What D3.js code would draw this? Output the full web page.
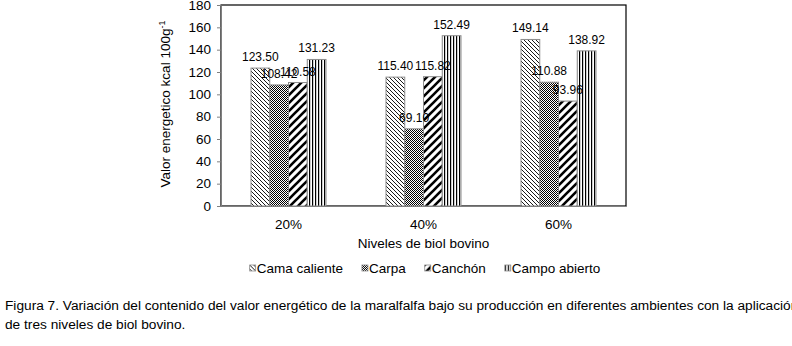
<!DOCTYPE html>
<html>
<head>
<meta charset="utf-8">
<script src="https://cdn.jsdelivr.net/npm/d3@7"></script>
<style>
  body { margin: 0; background: #fff; }
  text { font-family: "Liberation Sans", Arial, sans-serif; }
</style>
</head>
<body>
<svg id="chart"></svg>
<script>
var groups = ["20%", "40%", "60%"]
var seriesNames = ["Cama caliente", "Carpa", "Canchón", "Campo abierto"]
var camaCaliente = [123.50, 115.40, 149.14]
var carpa = [108.42, 69.10, 110.88]
var canchon = [110.58, 115.82, 93.96]
var campoAbierto = [131.23, 152.49, 138.92]
var yTicks = [0, 20, 40, 60, 80, 100, 120, 140, 160, 180]
var caption = [
  "Figura 7. Variación del contenido del valor energético de la maralfalfa bajo su producción en diferentes ambientes con la aplicación",
  "de tres niveles de biol bovino."
]

var seriesValues = [camaCaliente, carpa, canchon, campoAbierto]
var patternIds = ["pat-cama", "pat-carpa", "pat-canchon", "pat-campo"]

var dimensions = {
  width: 792,
  height: 346,
  margin: { top: 5, bottom: 140, left: 221, right: 166 }
}

var svg = d3.select("#chart")
  .attr("width", dimensions.width)
  .attr("height", dimensions.height)

svg.append("rect")
  .attr("width", dimensions.width)
  .attr("height", dimensions.height)
  .attr("fill", "#fff")

// fill patterns
var defs = svg.append("defs")

var pCama = defs.append("pattern").attr("id", "pat-cama")
  .attr("patternUnits", "userSpaceOnUse").attr("width", 4).attr("height", 4)
pCama.append("rect").attr("width", 4).attr("height", 4).attr("fill", "#fff")
pCama.append("path").attr("d", "M-1,-1L5,5M3,-1L5,1M-1,3L1,5")
  .attr("stroke", "#000").attr("stroke-width", 0.9)

var pCarpa = defs.append("pattern").attr("id", "pat-carpa")
  .attr("patternUnits", "userSpaceOnUse").attr("width", 2).attr("height", 2)
pCarpa.append("rect").attr("width", 2).attr("height", 2).attr("fill", "#fff")
pCarpa.append("rect").attr("width", 1).attr("height", 1).attr("fill", "#000")
pCarpa.append("rect").attr("x", 1).attr("y", 1).attr("width", 1).attr("height", 1).attr("fill", "#000")

var pCanchon = defs.append("pattern").attr("id", "pat-canchon")
  .attr("patternUnits", "userSpaceOnUse").attr("width", 8).attr("height", 8)
pCanchon.append("rect").attr("width", 8).attr("height", 8).attr("fill", "#fff")
pCanchon.append("path").attr("d", "M-1,9L9,-1M-3,3L3,-3M5,11L11,5")
  .attr("stroke", "#000").attr("stroke-width", 2.6)

var pCampo = defs.append("pattern").attr("id", "pat-campo")
  .attr("patternUnits", "userSpaceOnUse").attr("width", 3).attr("height", 3)
pCampo.append("rect").attr("width", 3).attr("height", 3).attr("fill", "#fff")
pCampo.append("rect").attr("width", 1.2).attr("height", 3).attr("fill", "#000")

var plotLeft = dimensions.margin.left
var plotRight = dimensions.width - dimensions.margin.right
var plotTop = dimensions.margin.top
var plotBottom = dimensions.height - dimensions.margin.bottom

var x0 = d3.scaleBand()
  .domain(groups)
  .range([plotLeft, plotRight])

var x1 = d3.scaleBand()
  .domain(d3.range(seriesNames.length))
  .range([0, x0.bandwidth()])
  .paddingOuter(1.6)

var yScale = d3.scaleLinear()
  .domain([0, 180])
  .range([plotBottom, plotTop])

// plot frame (top / right are black)
svg.append("rect")
  .attr("x", plotLeft).attr("y", plotTop)
  .attr("width", plotRight - plotLeft).attr("height", plotBottom - plotTop)
  .attr("fill", "none").attr("stroke", "#000").attr("stroke-width", 1.2)

var data = []
seriesValues.forEach(function (vals, s) {
  vals.forEach(function (v, g) {
    data.push({ group: groups[g], s: s, value: v })
  })
})

svg.append("g")
  .selectAll("rect")
  .data(data)
  .enter()
  .append("rect")
  .attr("x", d => x0(d.group) + x1(d.s))
  .attr("y", d => yScale(d.value))
  .attr("width", x1.bandwidth())
  .attr("height", d => plotBottom - yScale(d.value))
  .attr("fill", d => "url(#" + patternIds[d.s] + ")")
  .attr("stroke", "#8c8c8c")
  .attr("stroke-width", 1)

svg.append("g")
  .selectAll("text")
  .data(data)
  .enter()
  .append("text")
  .attr("x", d => x0(d.group) + x1(d.s) + x1.bandwidth() / 2)
  .attr("y", d => yScale(d.value) - 7)
  .attr("text-anchor", "middle")
  .attr("font-size", 12)
  .attr("fill", "#000")
  .text(d => d3.format(".2f")(d.value))

// axes
var yAxisGen = d3.axisLeft(yScale).tickValues(yTicks).tickSize(4).tickPadding(6)
var yAxis = svg.append("g")
  .attr("transform", `translate(${plotLeft},0)`)
  .call(yAxisGen)
yAxis.select(".domain").attr("stroke", "#808080")
yAxis.selectAll(".tick line").attr("stroke", "#808080")
yAxis.selectAll(".tick text").attr("font-size", 13.5).attr("fill", "#000")
  .style("font-family", "Liberation Sans, Arial, sans-serif")

var xAxisGen = d3.axisBottom(x0).tickSize(0).tickPadding(13)
var xAxis = svg.append("g")
  .attr("transform", `translate(0,${plotBottom})`)
  .call(xAxisGen)
xAxis.select(".domain").attr("stroke", "#808080")
xAxis.selectAll(".tick text").attr("font-size", 13.5).attr("fill", "#000")
  .style("font-family", "Liberation Sans, Arial, sans-serif")

// axis titles
svg.append("text")
  .attr("x", (plotLeft + plotRight) / 2)
  .attr("y", 248)
  .attr("text-anchor", "middle")
  .attr("font-size", 13.5)
  .text("Niveles de biol bovino")

var yTitle = svg.append("text")
  .attr("transform", "translate(170,104) rotate(-90)")
  .attr("text-anchor", "middle")
  .attr("font-size", 13.5)
yTitle.append("tspan").text("Valor energetico kcal 100g")
yTitle.append("tspan").attr("dy", -5).attr("font-size", 9).text("-1")

// legend
var legend = svg.append("g")
var lx = 0
seriesNames.forEach(function (name, i) {
  var item = legend.append("g").attr("transform", `translate(${lx},0)`)
  item.append("rect")
    .attr("x", 0).attr("y", -8)
    .attr("width", 6).attr("height", 6)
    .attr("fill", "url(#" + patternIds[i] + ")")
    .attr("stroke", "#8c8c8c").attr("stroke-width", 0.8)
  var t = item.append("text")
    .attr("x", 7).attr("y", 0)
    .attr("font-size", 13.5)
    .text(name)
  lx += 7 + t.node().getComputedTextLength() + 19
})
var legendWidth = lx - 19
legend.attr("transform", `translate(${425 - legendWidth / 2},273)`)

// caption
svg.append("g")
  .selectAll("text")
  .data(caption)
  .enter()
  .append("text")
  .attr("x", 5)
  .attr("y", (d, i) => 310 + i * 19)
  .attr("font-size", 13.7)
  .text(d => d)
</script>
</body>
</html>
